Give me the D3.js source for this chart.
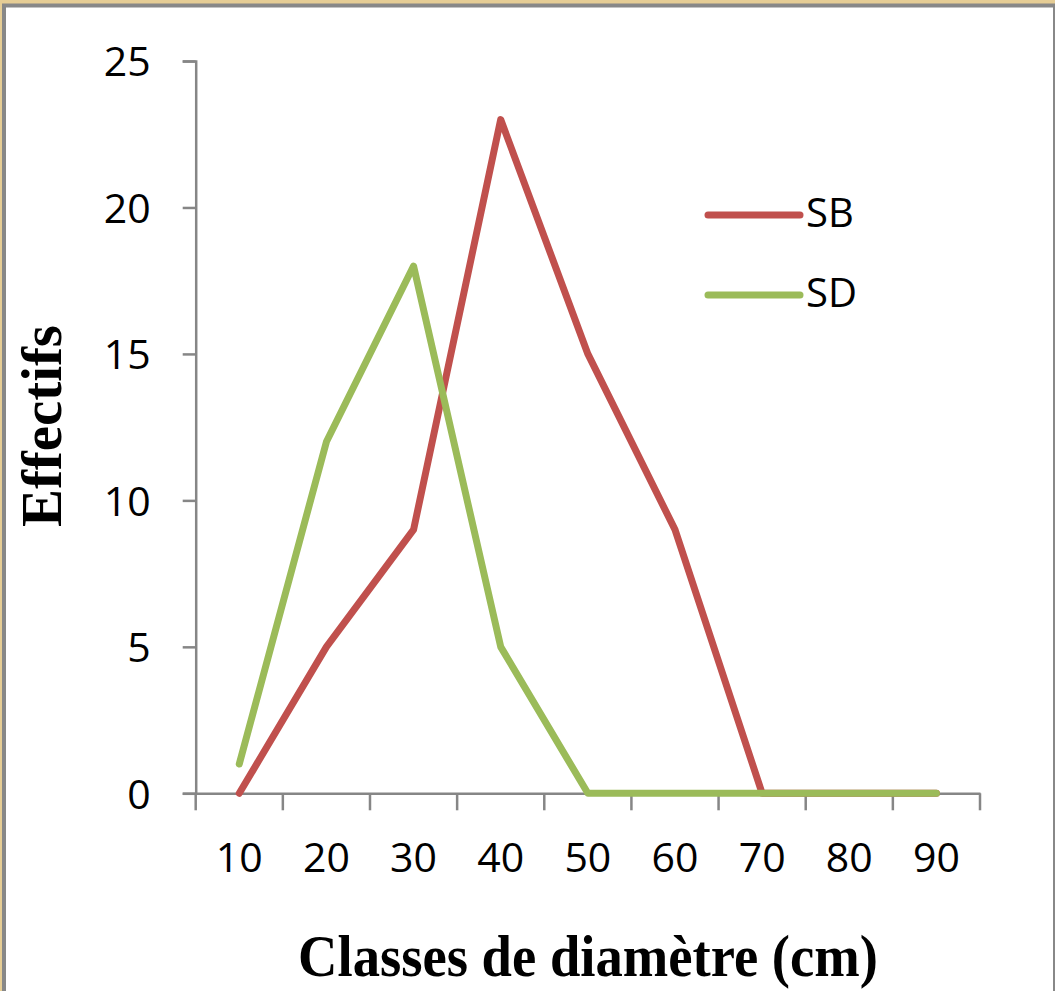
<!DOCTYPE html>
<html>
<head>
<meta charset="utf-8">
<script src="https://cdn.jsdelivr.net/npm/d3@7"></script>
<style>
  html, body { margin: 0; padding: 0; background: #e6cd95; }
  svg { display: block; }
</style>
</head>
<body>
<svg id="chart" width="1055" height="991"></svg>
<script>
const categories = ["10", "20", "30", "40", "50", "60", "70", "80", "90"];
const seriesSB = [0, 5, 9, 23, 15, 9, 0, 0, 0];
const seriesSD = [1, 12, 18, 5, 0, 0, 0, 0, 0];
const yTicks = [0, 5, 10, 15, 20, 25];
const seriesNames = ["SB", "SD"];
const seriesColors = ["#C0504D", "#9BBB59"];

const svg = d3.select("#chart");

// frame
svg.append("rect")
  .attr("x", 4).attr("y", 5.5)
  .attr("width", 1051).attr("height", 1000)
  .attr("fill", "#ffffff")
  .attr("stroke", "#888888")
  .attr("stroke-width", 4);

const plotLeft = 195.7, plotRight = 980, plotTop = 61, plotBottom = 793.3;

const x = d3.scaleBand().domain(categories).range([plotLeft, plotRight]).padding(0);
const y = d3.scaleLinear().domain([0, 25]).range([plotBottom, plotTop]);
const cx = c => x(c) + x.bandwidth() / 2;

const axisColor = "#868686";
const tickFont = "'Open Sans', 'Noto Sans', sans-serif";

// Y axis
const yAxis = svg.append("g")
  .attr("transform", `translate(${plotLeft},0)`)
  .call(d3.axisLeft(y).tickValues(yTicks).tickSize(13).tickPadding(32).tickFormat(d3.format("d")));
yAxis.select(".domain").attr("stroke", axisColor).attr("stroke-width", 2.5);
yAxis.selectAll(".tick line").attr("stroke", axisColor).attr("stroke-width", 2.5);
yAxis.selectAll(".tick text")
  .attr("font-family", tickFont).attr("font-size", 41).attr("fill", "#000")
  .attr("dy", "0.36em");

// X axis (labels at centers)
const xAxis = svg.append("g")
  .attr("transform", `translate(0,${plotBottom})`)
  .call(d3.axisBottom(x).tickSize(0).tickPadding(50));
xAxis.select(".domain").attr("stroke", axisColor).attr("stroke-width", 2.5);
xAxis.selectAll(".tick text")
  .attr("font-family", tickFont).attr("font-size", 41).attr("fill", "#000");

// X boundary ticks
const boundaries = categories.map(c => x(c)).concat([x(categories[categories.length - 1]) + x.bandwidth()]);
svg.append("g").selectAll("line")
  .data(boundaries).join("line")
  .attr("x1", d => d).attr("x2", d => d)
  .attr("y1", plotBottom).attr("y2", plotBottom + 17)
  .attr("stroke", axisColor).attr("stroke-width", 2.5);

// Lines
const line = d3.line()
  .x((d, i) => cx(categories[i]))
  .y(d => y(d));

[seriesSB, seriesSD].forEach((s, k) => {
  svg.append("path")
    .datum(s)
    .attr("d", line)
    .attr("fill", "none")
    .attr("stroke", seriesColors[k])
    .attr("stroke-width", 7)
    .attr("stroke-linejoin", "round")
    .attr("stroke-linecap", "round");
});

// Legend
const legendY = [215, 295];
seriesNames.forEach((n, k) => {
  svg.append("line")
    .attr("x1", 708).attr("x2", 800)
    .attr("y1", legendY[k]).attr("y2", legendY[k])
    .attr("stroke", seriesColors[k]).attr("stroke-width", 7)
    .attr("stroke-linecap", "round");
  svg.append("text")
    .attr("x", 806).attr("y", legendY[k] + 12)
    .attr("font-family", tickFont).attr("font-size", 40)
    .attr("fill", "#000")
    .text(n);
});

// Axis titles
svg.append("text")
  .attr("transform", "translate(61,426) rotate(-90)")
  .attr("text-anchor", "middle")
  .attr("font-family", "'Liberation Serif', 'Times New Roman', serif")
  .attr("font-weight", "bold")
  .attr("font-size", 58)
  .attr("textLength", 202)
  .attr("lengthAdjust", "spacingAndGlyphs")
  .attr("fill", "#000")
  .text("Effectifs");

svg.append("text")
  .attr("x", 588).attr("y", 976)
  .attr("text-anchor", "middle")
  .attr("font-family", "'Liberation Serif', 'Times New Roman', serif")
  .attr("font-weight", "bold")
  .attr("font-size", 60)
  .attr("textLength", 580)
  .attr("lengthAdjust", "spacingAndGlyphs")
  .attr("fill", "#000")
  .text("Classes de diamètre (cm)");
</script>
</body>
</html>
